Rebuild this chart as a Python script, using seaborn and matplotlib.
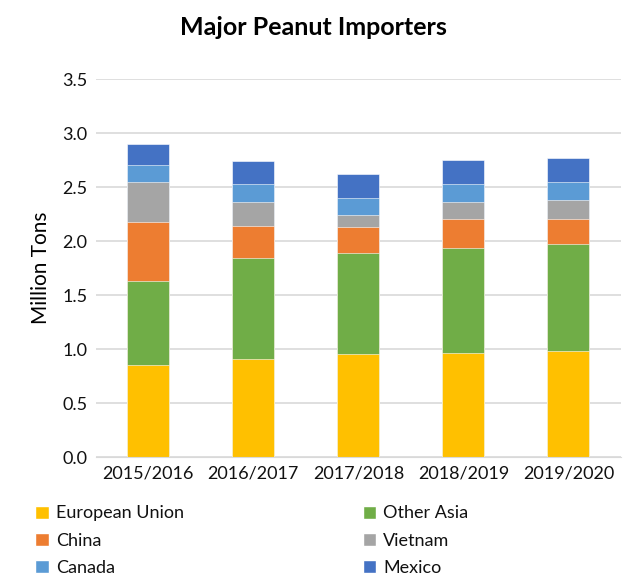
import pandas as pd
import matplotlib.pyplot as plt
import seaborn as sns
from matplotlib.patches import Patch

# data (million tons)
years = ['2015/2016', '2016/2017', '2017/2018', '2018/2019', '2019/2020']
european_union = [0.855, 0.907, 0.957, 0.969, 0.981]
other_asia = [0.781, 0.942, 0.938, 0.966, 0.997]
china = [0.546, 0.293, 0.238, 0.275, 0.229]
vietnam = [0.364, 0.219, 0.108, 0.151, 0.176]
canada = [0.161, 0.170, 0.157, 0.170, 0.163]
mexico = [0.191, 0.213, 0.222, 0.222, 0.229]

series = ['European Union', 'Other Asia', 'China', 'Vietnam', 'Canada', 'Mexico']
colors = ['#FFC000', '#70AD47', '#ED7D31', '#A5A5A5', '#5B9BD5', '#4472C4']

df = pd.DataFrame({
    'year': years,
    'European Union': european_union,
    'Other Asia': other_asia,
    'China': china,
    'Vietnam': vietnam,
    'Canada': canada,
    'Mexico': mexico,
})
cum = df[series].cumsum(axis=1)
cum['year'] = df['year']

sns.set_style('white')
plt.rcParams['font.family'] = ['Lato', 'DejaVu Sans']

fig = plt.figure(figsize=(6.26, 5.75), dpi=100)
ax = fig.add_axes([0.153, 0.205, 0.839, 0.657])

# stacked bars: draw cumulative totals from the top segment down
for name, col in reversed(list(zip(series, colors))):
    sns.barplot(data=cum, x='year', y=name, color=col, width=0.4,
                saturation=1, edgecolor='white', linewidth=0.4, ax=ax)

ax.set_ylim(0, 3.5)
ax.set_yticks([i * 0.5 for i in range(8)])
ax.set_yticklabels([f'{i * 0.5:.1f}' for i in range(8)])
ax.yaxis.grid(True, color='#D9D9D9', linewidth=1.2)
ax.set_axisbelow(True)
for s in ['top', 'right', 'left']:
    ax.spines[s].set_visible(False)
ax.spines['bottom'].set_color('#D9D9D9')
ax.tick_params(axis='both', length=0, labelsize=13, colors='#111111', pad=6)
ax.set_xlabel('')
ax.set_ylabel('Million Tons', fontsize=15, color='black', labelpad=8)

fig.suptitle('Major Peanut Importers', fontsize=18, fontweight='bold',
             color='black', x=0.5, y=0.972)

handles = [Patch(facecolor=c, label=s) for s, c in zip(series, colors)]
order = [0, 2, 4, 1, 3, 5]
fig.legend([handles[i] for i in order], [series[i] for i in order],
           ncol=2, loc='upper left', bbox_to_anchor=(0.056, 0.121),
           frameon=False, fontsize=13, handlelength=0.75, handleheight=0.75,
           handletextpad=0.4, columnspacing=9.9, labelspacing=0.62,
           borderaxespad=0, borderpad=0, labelcolor='#111111')

fig.savefig('out.png', dpi=100)
